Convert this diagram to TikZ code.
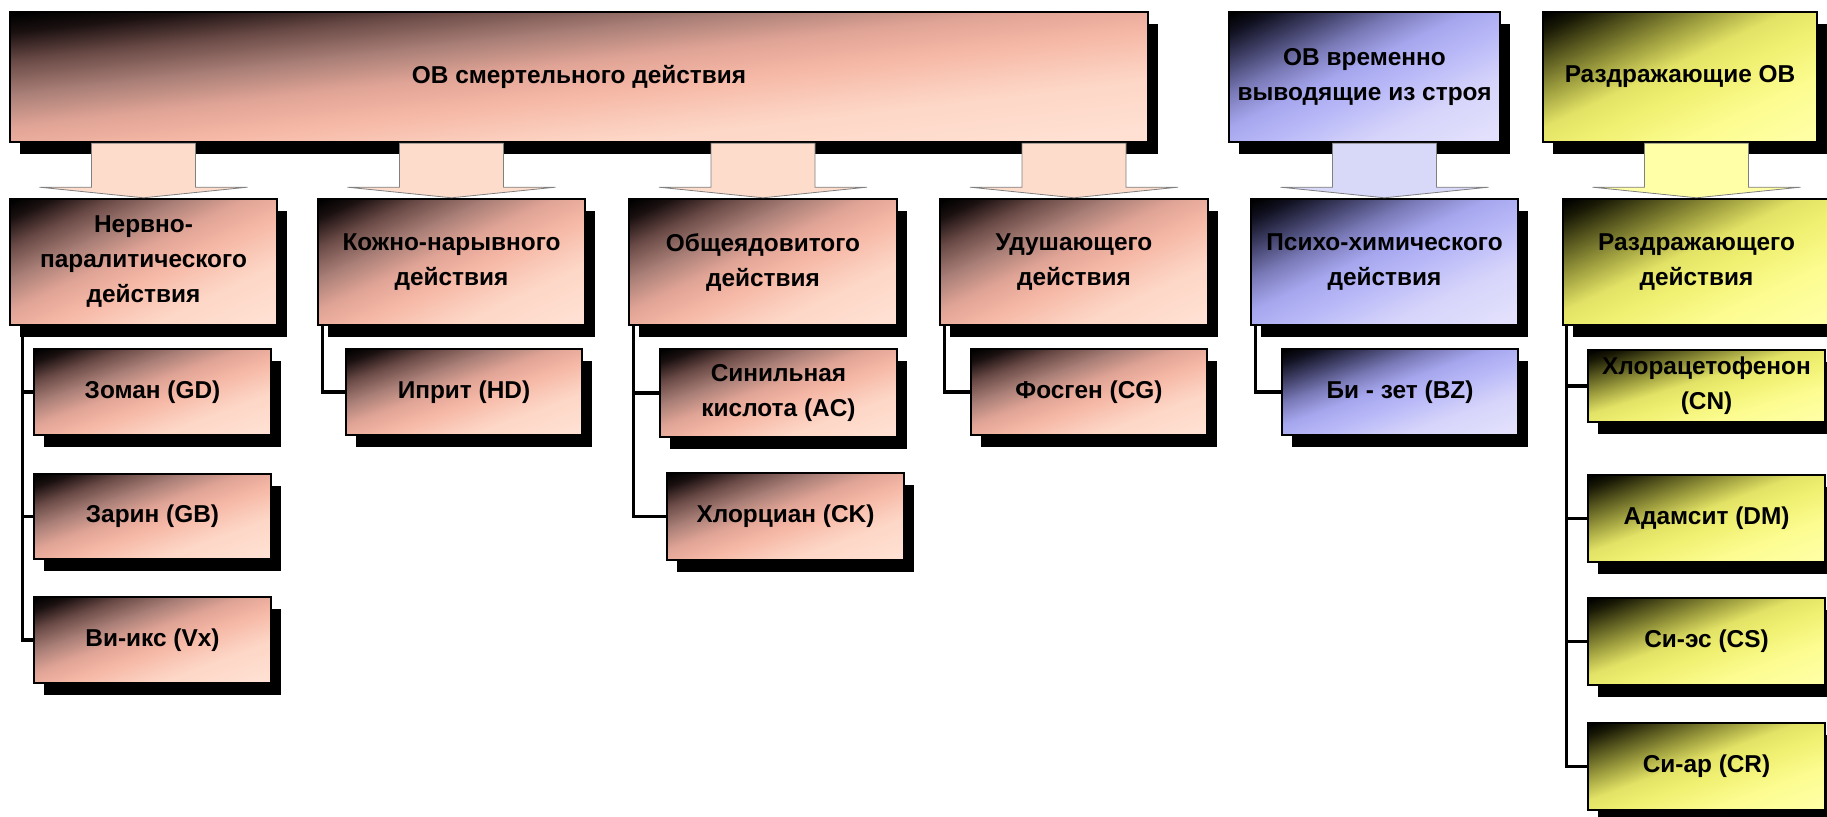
\documentclass[tikz,border=0pt]{standalone}
\usepackage{fontspec}
\setmainfont{Liberation Sans}
\usetikzlibrary{calc}
\pgfdeclarelayer{bg}
\pgfsetlayers{bg,main}

\definecolor{pkA}{HTML}{1A1010}
\definecolor{pkB}{HTML}{6A4A46}
\definecolor{pkC}{HTML}{A87E76}
\definecolor{pkD}{HTML}{E0A496}
\definecolor{pkE}{HTML}{F6B8A6}
\definecolor{pkF}{HTML}{FDD6C6}
\definecolor{pkG}{HTML}{FFE0D2}
\definecolor{blA}{HTML}{101020}
\definecolor{blB}{HTML}{404068}
\definecolor{blC}{HTML}{7A7AB8}
\definecolor{blD}{HTML}{A6A6EE}
\definecolor{blE}{HTML}{B8B8F8}
\definecolor{blF}{HTML}{D6D4FA}
\definecolor{blG}{HTML}{E2E0FC}
\definecolor{yeA}{HTML}{1A1A06}
\definecolor{yeB}{HTML}{5A5A20}
\definecolor{yeC}{HTML}{A0A040}
\definecolor{yeD}{HTML}{E2E266}
\definecolor{yeE}{HTML}{F0F072}
\definecolor{yeF}{HTML}{FCFC90}
\definecolor{yeG}{HTML}{FFFFA4}
\definecolor{arrPink}{HTML}{FDDCCB}
\definecolor{arrBlue}{HTML}{D8D8F8}
\definecolor{arrYel}{HTML}{FFFFA8}

\pgfdeclarehorizontalshading{pinkgrad}{100bp}{color(0bp)=(black); color(15bp)=(black); color(20bp)=(pkA); color(28bp)=(pkB); color(37bp)=(pkC); color(46bp)=(pkD); color(55bp)=(pkE); color(68bp)=(pkF); color(82bp)=(pkG); color(100bp)=(pkG)}
\pgfdeclarehorizontalshading{bluegrad}{100bp}{color(0bp)=(black); color(15bp)=(black); color(20bp)=(blA); color(28bp)=(blB); color(37bp)=(blC); color(46bp)=(blD); color(55bp)=(blE); color(68bp)=(blF); color(82bp)=(blG); color(100bp)=(blG)}
\pgfdeclarehorizontalshading{yelgrad}{100bp}{color(0bp)=(black); color(15bp)=(black); color(20bp)=(yeA); color(28bp)=(yeB); color(37bp)=(yeC); color(46bp)=(yeD); color(55bp)=(yeE); color(68bp)=(yeF); color(82bp)=(yeG); color(100bp)=(yeG)}

% name, x1, y1, x2, y2, shading, text   (pixel coordinates, y downwards)
\newcommand\mybox[7]{%
  \fill[boxshadow] ({#2+10},{#3+12}) rectangle ({#4+10},{#5+12});
  \begin{scope}[transform canvas={shift={(#2,#5)},xscale={(#4-#2)/200},yscale={(#5-#3)/200}}]
    \shade[shading=#6,shading angle=-45] (0pt,0pt) rectangle (100pt,100pt);
  \end{scope}
  \node[box,minimum width={(#4-#2)*0.5pt},minimum height={(#5-#3)*0.5pt}] (#1) at ({(#2+#4)/2},{(#3+#5)/2}) {#7};}
\newcommand\blockarrow[3]{%
  \path (#2.north |- #1.south) coordinate (tmp);
  \draw[arr,#3] ($(tmp)+(-52,0)$) -- ($(tmp)+(-52,44)$) -- ($(tmp)+(-104,44)$) -- (#2.north) -- ($(tmp)+(104,44)$) -- ($(tmp)+(52,44)$) -- ($(tmp)+(52,0)$) -- cycle;}

\begin{document}
\begin{tikzpicture}[x=0.5pt,y=-0.5pt,
  box/.style={draw=black,line width=1.2pt,inner sep=2pt,align=center,
    font=\bfseries\fontsize{12.2}{17.5}\selectfont,text=black},
  boxshadow/.style={fill=black},
  conn/.style={line width=1.6pt,draw=black},
  arr/.style={draw=gray,line width=0.4pt},
  arrpink/.style={fill=arrPink},
  arrblue/.style={fill=arrBlue},
  arryel/.style={fill=arrYel}]
\useasboundingbox (0,0) rectangle (1827,817);

% top level
\mybox{big}{10}{12}{1148}{142}{pinkgrad}{ОВ смертельного действия}
\mybox{vrem}{1229}{12}{1500}{142}{bluegrad}{ОВ временно\\выводящие из строя}
\mybox{razdOV}{1543}{12}{1817}{142}{yelgrad}{Раздражающие ОВ}

% second level
\mybox{nerv}{10}{199}{277}{325}{pinkgrad}{Нервно-\\паралитического\\действия}
\mybox{kozh}{318}{199}{585}{325}{pinkgrad}{Кожно-нарывного\\действия}
\mybox{obsh}{629}{199}{897}{325}{pinkgrad}{Общеядовитого\\действия}
\mybox{udush}{940}{199}{1208}{325}{pinkgrad}{Удушающего\\действия}
\mybox{psih}{1251}{199}{1518}{325}{bluegrad}{Психо-химического\\действия}
\mybox{razd}{1563}{199}{1830}{325}{yelgrad}{Раздражающего\\действия}

% third level
\mybox{zoman}{34}{349}{271}{435}{pinkgrad}{Зоман (GD)}
\mybox{zarin}{34}{474}{271}{559}{pinkgrad}{Зарин (GB)}
\mybox{vx}{34}{597}{271}{683}{pinkgrad}{Ви-икс (Vx)}
\mybox{iprit}{346}{349}{582}{435}{pinkgrad}{Иприт (HD)}
\mybox{sinil}{660}{349}{897}{437}{pinkgrad}{Синильная\\кислота (AC)}
\mybox{hlorc}{667}{473}{904}{560}{pinkgrad}{Хлорциан (CK)}
\mybox{fosgen}{971}{349}{1207}{435}{pinkgrad}{Фосген (CG)}
\mybox{bizet}{1282}{349}{1518}{435}{bluegrad}{Би - зет (BZ)}
\mybox{cn}{1588}{350}{1825}{422}{yelgrad}{Хлорацетофенон\\(CN)}
\mybox{dm}{1588}{475}{1825}{562}{yelgrad}{Адамсит (DM)}
\mybox{cs}{1588}{598}{1825}{685}{yelgrad}{Си-эс (CS)}
\mybox{cr}{1588}{723}{1825}{810}{yelgrad}{Си-ар (CR)}

% connectors
\begin{pgfonlayer}{bg}
\foreach \c in {zoman,zarin,vx} \draw[conn] ($(nerv.south west)+(14,0)$) |- (\c.west);
\draw[conn] ($(kozh.south west)+(6,0)$) |- (iprit.west);
\foreach \c in {sinil,hlorc} \draw[conn] ($(obsh.south west)+(6,0)$) |- (\c.west);
\draw[conn] ($(udush.south west)+(6,0)$) |- (fosgen.west);
\draw[conn] ($(psih.south west)+(6,0)$) |- (bizet.west);
\foreach \c in {cn,dm,cs,cr} \draw[conn] ($(razd.south west)+(5,0)$) |- (\c.west);
\end{pgfonlayer}

% block arrows
\blockarrow{big}{nerv}{arrpink}
\blockarrow{big}{kozh}{arrpink}
\blockarrow{big}{obsh}{arrpink}
\blockarrow{big}{udush}{arrpink}
\blockarrow{vrem}{psih}{arrblue}
\blockarrow{razdOV}{razd}{arryel}
\end{tikzpicture}
\end{document}
